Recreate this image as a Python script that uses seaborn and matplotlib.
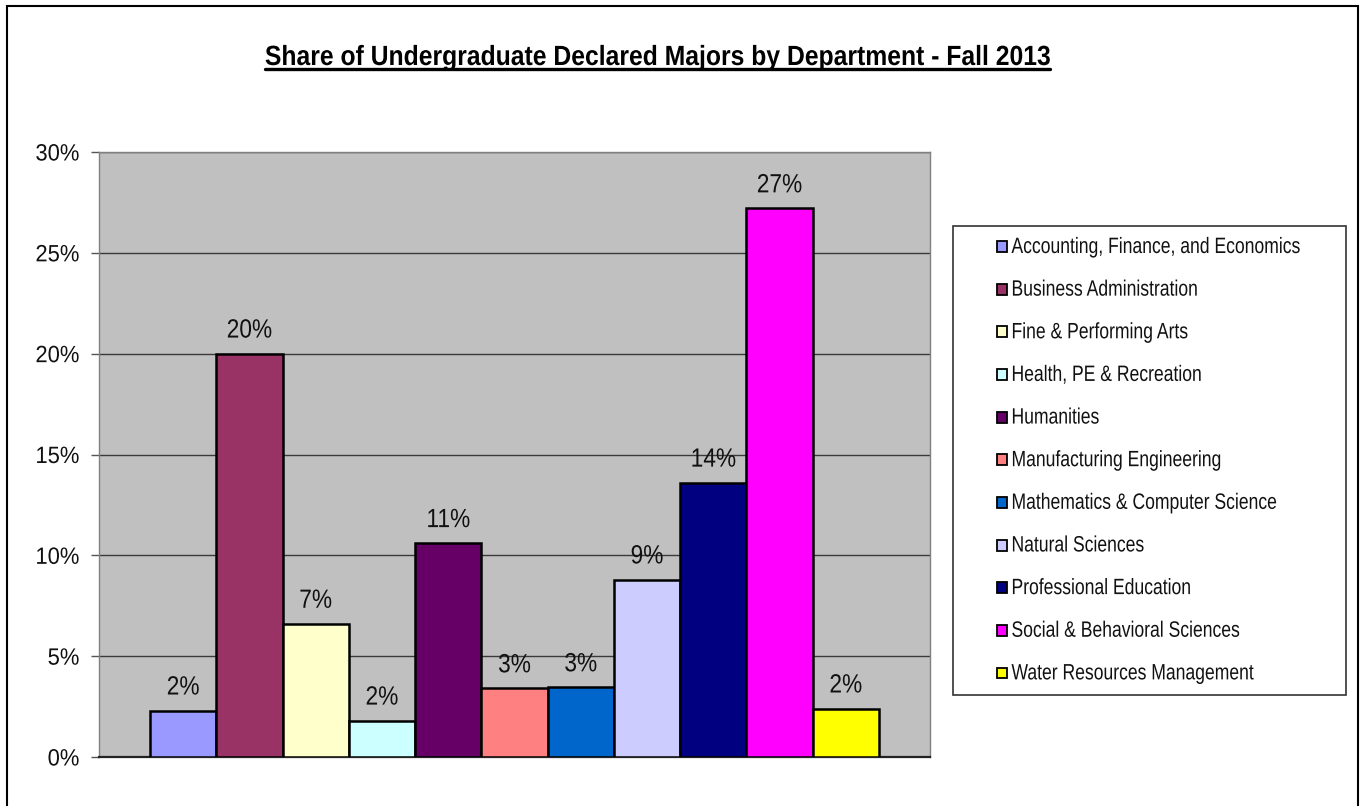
import matplotlib
matplotlib.use("Agg")
import matplotlib.pyplot as plt
from matplotlib.patches import Patch, Rectangle
from matplotlib.patheffects import AbstractPathEffect
from matplotlib.transforms import Affine2D
from matplotlib.ticker import FuncFormatter, MultipleLocator
import seaborn as sns
import pandas as pd

departments = [
    "Accounting, Finance, and Economics",
    "Business Administration",
    "Fine & Performing Arts",
    "Health, PE & Recreation",
    "Humanities",
    "Manufacturing Engineering",
    "Mathematics & Computer Science",
    "Natural Sciences",
    "Professional Education",
    "Social & Behavioral Sciences",
    "Water Resources Management",
]
share_pct = [2.3, 20.0, 6.6, 1.8, 10.6, 3.4, 3.45, 8.8, 13.6, 27.2, 2.4]
bar_colors = ["#9999FF", "#993366", "#FFFFCC", "#CCFFFF", "#660066", "#FF8080",
              "#0066CC", "#CCCCFF", "#000080", "#FF00FF", "#FFFF00"]
title_text = "Share of Undergraduate Declared Majors by Department - Fall 2013"


class Condense(AbstractPathEffect):
    """Rescale a text path around a fraction of its ink width and its baseline."""

    def __init__(self, sx=0.85, anchor=0.5, sy=1.0):
        super().__init__()
        self.sx = sx
        self.sy = sy
        self.anchor = anchor

    def draw_path(self, renderer, gc, tpath, affine, rgbFace=None):
        ext = tpath.get_extents()
        x0 = ext.x0 + self.anchor * ext.width
        t = (Affine2D().translate(-x0, 0).scale(self.sx, self.sy)
             .translate(x0, 0) + affine)
        renderer.draw_path(gc, tpath, t, rgbFace)


sns.set_theme(style="white")
plt.rcParams["font.family"] = ["Liberation Sans", "DejaVu Sans"]

W, H = 1365, 806
fig = plt.figure(figsize=(W / 100, H / 100), dpi=100)
ax = fig.add_axes([99 / W, 1 - 757 / H, (930 - 99) / W, (757 - 152) / H])

df = pd.DataFrame({"dept": departments, "share": share_pct})
sns.barplot(data=df, x="dept", y="share", hue="dept", palette=bar_colors,
            width=1.0, edgecolor="black", linewidth=1.8, legend=False,
            saturation=1.0, ax=ax, zorder=3)

ax.set_facecolor("#C0C0C0")
ax.set_xlim(-1.27, 10.5 + 0.77)
ax.set_ylim(0, 30)
ax.yaxis.set_major_locator(MultipleLocator(5))
ax.yaxis.set_major_formatter(FuncFormatter(lambda v, _: f"{v:.0f}%"))
ax.grid(axis="y", color="#3a3a3a", linewidth=1.0, zorder=0)
ax.set_axisbelow(True)
ax.set_xticks([])
ax.set_xlabel("")
ax.set_ylabel("")
ax.tick_params(axis="y", which="major", left=True, length=6, width=1,
               color="#555555", labelsize=17, pad=8, labelcolor="#111111")
for side in ("top", "right", "left"):
    ax.spines[side].set_color("#808080")
    ax.spines[side].set_linewidth(1.0)
ax.spines["bottom"].set_color("#222222")
ax.spines["bottom"].set_linewidth(1.6)

for cont in ax.containers:
    labels = ax.bar_label(cont, fmt=lambda v: f"{v:.0f}%", padding=8,
                          fontsize=19, color="#111111")
    for t in labels:
        t.set_path_effects([Condense(0.86, 0.5)])

# Title with underline
title_sx = 0.89
title_y = 1 - 65 / H
title = fig.text(0.4817, title_y, title_text, ha="center", va="baseline",
                 fontsize=20, fontweight="bold", color="black")
title.set_path_effects([Condense(title_sx, 0.5)])

# Legend box
fig.add_artist(Rectangle((953 / W, 1 - 695 / H), (1346 - 953) / W, (695 - 226) / H,
                         transform=fig.transFigure, facecolor="white",
                         edgecolor="#333333", linewidth=1.2))
handles = [Patch(facecolor=c, edgecolor="black", linewidth=1.3) for c in bar_colors]
leg_fs = 13
leg = fig.legend(handles, departments, loc="upper left",
                 bbox_to_anchor=(997 / W, 1 - 240 / H), frameon=False,
                 fontsize=leg_fs, handlelength=0.55, handleheight=0.55,
                 handletextpad=0.25, labelspacing=1.42, borderaxespad=0,
                 borderpad=0)
for t in leg.get_texts():
    t.set_color("#111111")
    t.set_path_effects([Condense(0.79 * 16 / leg_fs, 0.0, 16 / leg_fs)])

# Outer frame of the chart
fig.add_artist(Rectangle((7 / W, -0.02), (1358 - 7) / W, 1 - 6 / H + 0.02,
                         transform=fig.transFigure, facecolor="none",
                         edgecolor="black", linewidth=1.5))

fig.canvas.draw()
for tick in ax.yaxis.get_major_ticks():
    tick.label1.set_path_effects([Condense(0.93, 1.0)])

renderer = fig.canvas.get_renderer()
bb = title.get_window_extent(renderer=renderer)
cx = 0.5 * (bb.x0 + bb.x1)
half = 0.5 * bb.width * title_sx
uy = title_y * H - 3.5
fig.add_artist(plt.Line2D([(cx - half) / W, (cx + half) / W], [uy / H, uy / H],
                          transform=fig.transFigure, color="black", linewidth=2.4))

fig.savefig("out.png", dpi=100)
